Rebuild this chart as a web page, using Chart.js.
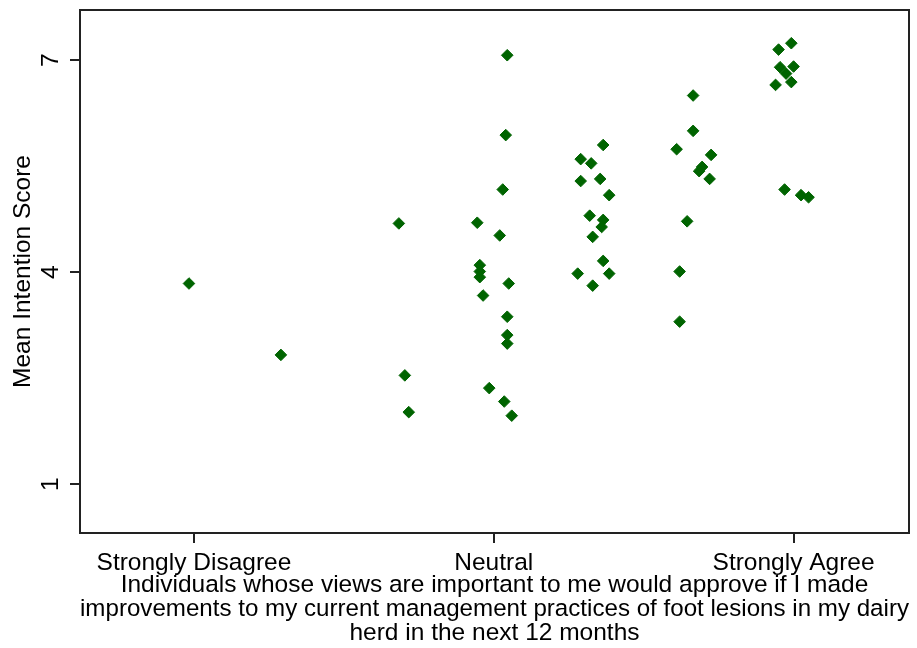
<!DOCTYPE html>
<html>
<head>
<meta charset="utf-8">
<script src="https://cdn.jsdelivr.net/npm/chart.js@4/dist/chart.umd.min.js"></script>
<style>
  html, body { margin: 0; padding: 0; background: #fff; }
  #wrap { width: 917px; height: 648px; }
</style>
</head>
<body>
<div id="wrap"><canvas id="grafico"></canvas></div>
<script>
// response category positions on the x axis (with jitter) and mean intention score
const respostas = [
    0.967, 1.58,
    2.367, 2.407, 2.433,
    3.09, 3.08, 3.06, 2.89, 3.04, 2.907, 2.907, 2.907, 2.929, 3.10, 3.09, 3.09, 3.09, 2.97, 3.07, 3.12,
    3.73, 3.58, 3.65, 3.58, 3.71, 3.77, 3.64, 3.73, 3.72, 3.66, 3.73, 3.56, 3.77, 3.66,
    4.33, 4.33, 4.22, 4.45, 4.39, 4.37, 4.44, 4.29, 4.24, 4.24,
    4.985, 4.90, 4.91, 5.00, 4.95, 4.985, 4.88, 4.94, 5.05, 5.10
];
const escores = [
    3.84, 2.83,
    4.69, 2.54, 2.02,
    7.07, 5.94, 5.17, 4.70, 4.52, 4.10, 4.01, 3.93, 3.67, 3.84, 3.37, 3.11, 2.99, 2.36, 2.17, 1.97,
    5.80, 5.60, 5.54, 5.29, 5.32, 5.09, 4.80, 4.74, 4.64, 4.50, 4.16, 3.98, 3.98, 3.81,
    6.50, 6.00, 5.74, 5.66, 5.49, 5.43, 5.32, 4.72, 4.01, 3.30,
    7.24, 7.15, 6.90, 6.91, 6.81, 6.69, 6.65, 5.17, 5.09, 5.06
];

const categorias = ['Strongly Disagree', 'Neutral', 'Strongly Agree'];
const posCategorias = [1, 3, 5];
const ticksY = [1, 4, 7];

const tituloX = [
    'Individuals whose views are important to me would approve if I made',
    'improvements to my current management practices of foot lesions in my dairy',
    'herd in the next 12 months'
];
const tituloY = 'Mean Intention Score';

const pontos = respostas.map((x, i) => ({ x: x, y: escores[i] }));

// box around the plot area
const moldura = {
    id: 'moldura',
    afterDraw(chart) {
        const a = chart.chartArea;
        const c = chart.ctx;
        c.save();
        c.strokeStyle = '#222';
        c.lineWidth = 2;
        c.strokeRect(a.left, a.top, a.right - a.left, a.bottom - a.top);
        c.restore();
    }
};

const fonte = { family: '"Liberation Sans", Arial, sans-serif', size: 24.5, lineHeight: '24px' };

new Chart(document.getElementById('grafico').getContext('2d'), {
    type: 'scatter',
    data: {
        datasets: [{
            data: pontos,
            pointStyle: 'rectRot',
            pointRadius: 5.8,
            pointBorderWidth: 1,
            backgroundColor: '#006400',
            borderColor: '#006400'
        }]
    },
    options: {
        responsive: true,
        maintainAspectRatio: false,
        animation: false,
        layout: { padding: { left: 0, top: 10, right: 8, bottom: 3 } },
        plugins: { legend: { display: false }, tooltip: { enabled: false } },
        scales: {
            x: {
                type: 'linear',
                min: 0.24,
                max: 5.77,
                afterBuildTicks(scale) {
                    scale.ticks = posCategorias.map(v => ({ value: v }));
                },
                afterFit(scale) {
                    scale.height = 112;
                    scale.paddingLeft = 0;
                    scale.paddingRight = 0;
                },
                ticks: {
                    color: '#000',
                    font: fonte,
                    padding: 8,
                    maxRotation: 0,
                    autoSkip: false,
                    callback: (v) => categorias[posCategorias.indexOf(v)]
                },
                grid: { drawOnChartArea: false, drawTicks: true, tickLength: 10, color: '#222', lineWidth: 2 },
                border: { display: true, color: '#222', width: 2 },
                title: {
                    display: true,
                    text: tituloX,
                    color: '#000',
                    font: fonte,
                    padding: { top: 0, bottom: 0 }
                }
            },
            y: {
                type: 'linear',
                min: 0.31,
                max: 7.71,
                afterBuildTicks(scale) {
                    scale.ticks = ticksY.map(v => ({ value: v }));
                },
                afterFit(scale) {
                    scale.width = 80;
                    scale.paddingTop = 0;
                    scale.paddingBottom = 0;
                },
                ticks: {
                    color: '#000',
                    font: fonte,
                    padding: 12,
                    minRotation: 90,
                    maxRotation: 90,
                    crossAlign: 'center'
                },
                grid: { drawOnChartArea: false, drawTicks: true, tickLength: 10, color: '#222', lineWidth: 2 },
                border: { display: true, color: '#222', width: 2 },
                title: {
                    display: true,
                    text: tituloY,
                    color: '#000',
                    font: fonte,
                    padding: { top: 11, bottom: 0 }
                }
            }
        }
    },
    plugins: [moldura]
});
</script>
</body>
</html>
